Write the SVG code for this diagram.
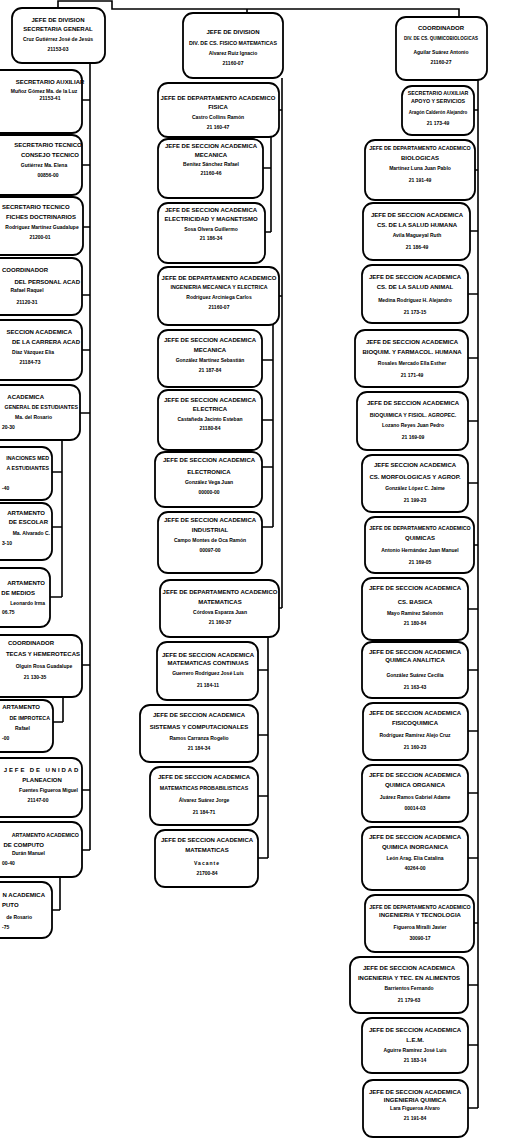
<svg xmlns="http://www.w3.org/2000/svg" width="521" height="1145" viewBox="0 0 521 1145">
<style>
rect{fill:#fff;stroke:#000;stroke-width:1.8}
.c{fill:none;stroke:#000;stroke-width:1.6}
text{font-family:"Liberation Sans",Arial,sans-serif;font-weight:bold;fill:#000;text-anchor:middle}
.h{font-size:6px}
.k{font-size:5.3px}
.n{font-size:5px}
.m{font-size:4.5px}
.e{text-anchor:end}
.st{text-anchor:start}
</style>
<rect x="-5" y="-5" width="531" height="1155" style="fill:#fff;stroke:none"/>
<g id="connectors" class="c">
<path d="M58,8 V1 H112 V9 H459 V17 M247,9 V13"/>
<path d="M90,63 V850 M82,100 H90 M82,165 H90 M83,227 H90 M82,295 H90 M82,350 H90 M80,413 H90 M82,665 H90 M82,790 H90 M82,850 H90"/>
<path d="M62,440 V597 M52,472 H62 M52,527 H62 M50,597 H62 M63,697 V722 M53,722 H63 M60,877 V910 M52,910 H60"/>
<path d="M282,78 V608 M279,110 H282 M279,296 H282 M279,608 H282"/>
<path d="M271,137 V232 M263,168 H271 M265,232 H271"/>
<path d="M273,325 V527 M262,360 H273 M262,420 H273 M262,467 H273 M262,527 H273"/>
<path d="M268,637 V858 M258,670 H268 M258,735 H268 M258,796 H268 M258,858 H268"/>
<path d="M478,80 V1108 M474,110 H478 M475,170 H478 M470,231 H478 M468,294 H478 M468,358 H478 M468,421 H478 M468,483 H478 M474,545 H478 M468,609 H478 M468,670 H478 M468,731 H478 M468,793 H478 M468,858 H478 M474,923 H478 M468,985 H478 M468,1045 H478 M468,1108 H478"/>
</g>
<g id="L1"><rect x="12" y="8" width="93" height="55" rx="10"/><text class="h" x="58" y="22">JEFE DE DIVISION</text><text class="h" x="58" y="31">SECRETARIA GENERAL</text><text class="n" x="58" y="41">Cruz Gutiérrez José de Jesús</text><text class="n" x="58" y="51">21153-03</text></g>
<g id="L2"><rect x="-20" y="70" width="102" height="63" rx="10"/><text class="h" x="50" y="84">SECRETARIO AUXILIAR</text><text class="n" x="44" y="93">Muñoz Gómez Ma. de la Luz</text><text class="n" x="50" y="100">21153-41</text></g>
<g id="L3"><rect x="-20" y="135" width="102" height="60" rx="10"/><text class="h" x="48" y="147">SECRETARIO TECNICO</text><text class="h" x="50" y="157">CONSEJO TECNICO</text><text class="n" x="44" y="167">Gutiérrez Ma. Elena</text><text class="n" x="48" y="177">00856-00</text></g>
<g id="L4"><rect x="-20" y="197" width="103" height="58" rx="10"/><text class="h st" x="2" y="209">SECRETARIO TECNICO</text><text class="h" x="41" y="219">FICHES DOCTRINARIOS</text><text class="n" x="42" y="229">Rodríguez Martínez Guadalupe</text><text class="n" x="40" y="239">21200-01</text></g>
<g id="L5"><rect x="-20" y="258" width="102" height="57" rx="10"/><text class="h st" x="2" y="272">COORDINADOR</text><text class="h e" x="80" y="284">DEL PERSONAL ACAD</text><text class="n" x="27" y="292">Rafael Raquel</text><text class="n" x="27" y="304">21120-31</text></g>
<g id="L6"><rect x="-20" y="320" width="102" height="60" rx="10"/><text class="h e" x="72" y="334">SECCION ACADEMICA</text><text class="h e" x="80" y="344">DE LA CARRERA ACAD</text><text class="n" x="33" y="354">Díaz Vázquez Elia</text><text class="n" x="30" y="364">21184-73</text></g>
<g id="L7"><rect x="-20" y="385" width="100" height="55" rx="10"/><text class="h e" x="44" y="399">ACADEMICA</text><text class="k e" x="78" y="409">GENERAL DE ESTUDIANTES</text><text class="n e" x="52" y="419">Ma. del Rosario</text><text class="n st" x="2" y="429">20-30</text></g>
<g id="L8"><rect x="-40" y="447" width="92" height="53" rx="10"/><text class="k e" x="49" y="460">INACIONES MED</text><text class="k e" x="49" y="470">A ESTUDIANTES</text><text class="n st" x="2" y="490">-40</text></g>
<g id="L9"><rect x="-40" y="503" width="92" height="57" rx="10"/><text class="h e" x="45" y="515">ARTAMENTO</text><text class="h e" x="48" y="524">DE ESCOLAR</text><text class="n e" x="50" y="535">Ma. Alvarado C.</text><text class="n st" x="2" y="545">3-10</text></g>
<g id="L10"><rect x="-40" y="568" width="90" height="59" rx="10"/><text class="h e" x="45" y="585">ARTAMENTO</text><text class="h e" x="35" y="595">DE MEDIOS</text><text class="n e" x="45" y="605">Leonardo Irma</text><text class="n st" x="2" y="614">06.75</text></g>
<g id="L11"><rect x="-20" y="635" width="102" height="62" rx="10"/><text class="h" x="31" y="645">COORDINADOR</text><text class="h e" x="80" y="656">TECAS Y HEMEROTECAS</text><text class="n" x="44" y="668">Olguín Rosa Guadalupe</text><text class="n" x="35" y="679">21 130-35</text></g>
<g id="L12"><rect x="-40" y="700" width="93" height="52" rx="10"/><text class="h e" x="40" y="709">ARTAMENTO</text><text class="k e" x="50" y="720">DE IMPROTECA</text><text class="n e" x="30" y="730">Rafael</text><text class="n st" x="2" y="740">-00</text></g>
<g id="L13"><rect x="-20" y="758" width="102" height="59" rx="10"/><text class="h" x="42" y="772" letter-spacing="1.9">JEFE DE UNIDAD</text><text class="h" x="42" y="782">PLANEACION</text><text class="n e" x="78" y="792">Fuentes Figueroa Miguel</text><text class="n" x="38" y="802">21147-00</text></g>
<g id="L14"><rect x="-20" y="822" width="102" height="55" rx="10"/><text class="k e" x="79" y="837">ARTAMENTO ACADEMICO</text><text class="h e" x="44" y="847">DE COMPUTO</text><text class="n e" x="45" y="855">Durán Manuel</text><text class="n st" x="2" y="865">00-40</text></g>
<g id="L15"><rect x="-40" y="882" width="92" height="56" rx="10"/><text class="h e" x="45" y="897">N ACADEMICA</text><text class="h st" x="2" y="907">PUTO</text><text class="n e" x="32" y="919">de Rosario</text><text class="n st" x="2" y="929">-75</text></g>

<g id="M1"><rect x="183" y="13" width="100" height="65" rx="10"/><text class="h" x="233" y="34">JEFE DE DIVISION</text><text class="k" x="233" y="45">DIV. DE CS. FISICO MATEMATICAS</text><text class="n" x="233" y="55">Alvarez Ruiz Ignacio</text><text class="n" x="233" y="65">21160-07</text></g>
<g id="M2"><rect x="158" y="83" width="121" height="54" rx="10"/><text class="h" x="218" y="100">JEFE DE DEPARTAMENTO ACADEMICO</text><text class="h" x="218" y="109">FISICA</text><text class="n" x="218" y="119">Castro Collins Ramón</text><text class="n" x="218" y="129">21 160-47</text></g>
<g id="M3"><rect x="158" y="139" width="105" height="59" rx="10"/><text class="h" x="211" y="148">JEFE DE SECCION ACADEMICA</text><text class="h" x="211" y="157">MECANICA</text><text class="n" x="211" y="166">Benítez Sánchez Rafael</text><text class="n" x="211" y="175">21160-46</text></g>
<g id="M4"><rect x="158" y="203" width="107" height="60" rx="10"/><text class="h" x="211" y="212">JEFE DE SECCION ACADEMICA</text><text class="h" x="211" y="221">ELECTRICIDAD Y MAGNETISMO</text><text class="n" x="211" y="231">Sosa Olvera Guillermo</text><text class="n" x="211" y="240">21 186-34</text></g>
<g id="M5"><rect x="158" y="267" width="121" height="58" rx="10"/><text class="h" x="219" y="280">JEFE DE DEPARTAMENTO ACADEMICO</text><text class="k" x="219" y="289">INGENIERIA MECANICA Y ELECTRICA</text><text class="n" x="219" y="299">Rodríguez Arciniega Carlos</text><text class="n" x="219" y="309">21160-07</text></g>
<g id="M6"><rect x="158" y="330" width="104" height="57" rx="10"/><text class="h" x="210" y="342">JEFE DE SECCION ACADEMICA</text><text class="h" x="210" y="352">MECANICA</text><text class="n" x="210" y="362">González Martínez Sebastián</text><text class="n" x="210" y="372">21 187-84</text></g>
<g id="M7"><rect x="158" y="390" width="104" height="60" rx="10"/><text class="h" x="210" y="402">JEFE DE SECCION ACADEMICA</text><text class="h" x="210" y="411">ELECTRICA</text><text class="n" x="210" y="421">Castañeda Jacinto Esteban</text><text class="n" x="210" y="430">21180-84</text></g>
<g id="M8"><rect x="155" y="452" width="107" height="55" rx="10"/><text class="h" x="209" y="462">JEFE DE SECCION ACADEMICA</text><text class="h" x="209" y="474">ELECTRONICA</text><text class="n" x="209" y="484">González Vega Juan</text><text class="n" x="209" y="494">00000-00</text></g>
<g id="M9"><rect x="158" y="512" width="104" height="61" rx="10"/><text class="h" x="210" y="522">JEFE DE SECCION ACADEMICA</text><text class="h" x="210" y="532">INDUSTRIAL</text><text class="n" x="210" y="542">Campo Montes de Oca Ramón</text><text class="n" x="210" y="552">00097-00</text></g>
<g id="M10"><rect x="160" y="580" width="119" height="57" rx="10"/><text class="h" x="220" y="594">JEFE DE DEPARTAMENTO ACADEMICO</text><text class="h" x="220" y="604">MATEMATICAS</text><text class="n" x="220" y="614">Córdova Esparza Juan</text><text class="n" x="220" y="624">21 160-37</text></g>
<g id="M11"><rect x="157" y="642" width="101" height="58" rx="10"/><text class="h" x="208" y="657">JEFE DE SECCION ACADEMICA</text><text class="h" x="208" y="665">MATEMATICAS CONTINUAS</text><text class="n" x="208" y="675">Guerrero Rodríguez José Luis</text><text class="n" x="208" y="687">21 184-11</text></g>
<g id="M12"><rect x="140" y="705" width="118" height="57" rx="10"/><text class="h" x="199" y="717">JEFE DE SECCION ACADEMICA</text><text class="h" x="199" y="729">SISTEMAS Y COMPUTACIONALES</text><text class="n" x="199" y="740">Ramos Carranza Rogelio</text><text class="n" x="199" y="750">21 184-34</text></g>
<g id="M13"><rect x="150" y="767" width="108" height="58" rx="10"/><text class="h" x="204" y="779">JEFE DE SECCION ACADEMICA</text><text class="k" x="204" y="790">MATEMATICAS PROBABILISTICAS</text><text class="n" x="204" y="802">Álvarez Suárez Jorge</text><text class="n" x="204" y="814">21 184-71</text></g>
<g id="M14"><rect x="155" y="830" width="103" height="57" rx="10"/><text class="h" x="207" y="842">JEFE DE SECCION ACADEMICA</text><text class="h" x="207" y="852">MATEMATICAS</text><text class="n" x="207" y="865" letter-spacing="1">Vacante</text><text class="n" x="207" y="875">21700-84</text></g>

<g id="R1"><rect x="396" y="17" width="91" height="63" rx="10"/><text class="h" x="441" y="30">COORDINADOR</text><text class="m" x="441" y="40">DIV. DE CS. QUIMICOBIOLOGICAS</text><text class="n" x="441" y="54">Aguilar Suárez Antonio</text><text class="n" x="441" y="64">21160-27</text></g>
<g id="R2"><rect x="402" y="86" width="72" height="49" rx="10"/><text class="k" x="438" y="95">SECRETARIO AUXILIAR</text><text class="k" x="438" y="103">APOYO Y SERVICIOS</text><text class="m" x="438" y="114">Aragón Calderón Alejandro</text><text class="n" x="438" y="125">21 173-49</text></g>
<g id="R3"><rect x="365" y="140" width="110" height="60" rx="10"/><text class="k" x="420" y="150">JEFE DE DEPARTAMENTO ACADEMICO</text><text class="h" x="420" y="160">BIOLOGICAS</text><text class="n" x="420" y="170">Martínez Luna Juan Pablo</text><text class="n" x="420" y="182">21 191-49</text></g>
<g id="R4"><rect x="363" y="203" width="107" height="57" rx="10"/><text class="h" x="417" y="217">JEFE DE SECCION ACADEMICA</text><text class="h" x="417" y="227">CS. DE LA SALUD HUMANA</text><text class="n" x="417" y="237">Avila Magueyal Ruth</text><text class="n" x="417" y="249">21 186-49</text></g>
<g id="R5"><rect x="362" y="265" width="106" height="58" rx="10"/><text class="h" x="415" y="279">JEFE DE SECCION ACADEMICA</text><text class="h" x="415" y="289">CS. DE LA SALUD ANIMAL</text><text class="n" x="415" y="302">Medina Rodríguez H. Alejandro</text><text class="n" x="415" y="314">21 173-15</text></g>
<g id="R6"><rect x="355" y="330" width="113" height="57" rx="10"/><text class="h" x="412" y="344">JEFE DE SECCION ACADEMICA</text><text class="h" x="412" y="354">BIOQUIM. Y FARMACOL. HUMANA</text><text class="n" x="412" y="365">Rosales Mercado Ella Esther</text><text class="n" x="412" y="377">21 171-49</text></g>
<g id="R7"><rect x="357" y="392" width="111" height="58" rx="10"/><text class="h" x="413" y="405">JEFE DE SECCION ACADEMICA</text><text class="k" x="413" y="417">BIOQUIMICA Y FISIOL. AGROPEC.</text><text class="n" x="413" y="427">Lozano Reyes Juan Pedro</text><text class="n" x="413" y="439">21 169-09</text></g>
<g id="R8"><rect x="362" y="455" width="106" height="57" rx="10"/><text class="h" x="415" y="467">JEFE SECCION ACADEMICA</text><text class="h" x="415" y="479">CS. MORFOLOGICAS Y AGROP.</text><text class="n" x="415" y="490">González López C. Jaime</text><text class="n" x="415" y="502">21 199-23</text></g>
<g id="R9"><rect x="365" y="517" width="109" height="56" rx="10"/><text class="k" x="420" y="530">JEFE DE DEPARTAMENTO ACADEMICO</text><text class="h" x="420" y="540">QUIMICAS</text><text class="n" x="420" y="552">Antonio Hernández Juan Manuel</text><text class="n" x="420" y="564">21 169-05</text></g>
<g id="R10"><rect x="362" y="578" width="106" height="62" rx="10"/><text class="h" x="415" y="590">JEFE DE SECCION ACADEMICA</text><text class="h" x="415" y="604">CS. BASICA</text><text class="n" x="415" y="615">Mayo Ramírez Salomón</text><text class="n" x="415" y="625">21 180-84</text></g>
<g id="R11"><rect x="362" y="642" width="106" height="56" rx="10"/><text class="h" x="415" y="654">JEFE DE SECCION ACADEMICA</text><text class="h" x="415" y="662">QUIMICA ANALITICA</text><text class="n" x="415" y="677">González Suárez Cecilia</text><text class="n" x="415" y="689">21 163-43</text></g>
<g id="R12"><rect x="363" y="703" width="105" height="57" rx="10"/><text class="h" x="415" y="715">JEFE DE SECCION ACADEMICA</text><text class="h" x="415" y="725">FISICOQUIMICA</text><text class="n" x="415" y="737">Rodríguez Ramírez Alejo Cruz</text><text class="n" x="415" y="749">21 160-23</text></g>
<g id="R13"><rect x="362" y="765" width="106" height="57" rx="10"/><text class="h" x="415" y="777">JEFE DE SECCION ACADEMICA</text><text class="h" x="415" y="787">QUIMICA ORGANICA</text><text class="n" x="415" y="799">Juárez Ramos Gabriel Adame</text><text class="n" x="415" y="810">00014-03</text></g>
<g id="R14"><rect x="362" y="827" width="106" height="63" rx="10"/><text class="h" x="415" y="839">JEFE DE SECCION ACADEMICA</text><text class="h" x="415" y="849">QUIMICA INORGANICA</text><text class="n" x="415" y="860">León Arag. Elia Catalina</text><text class="n" x="415" y="870">40264-00</text></g>
<g id="R15"><rect x="365" y="895" width="109" height="57" rx="10"/><text class="k" x="420" y="909">JEFE DE DEPARTAMENTO ACADEMICO</text><text class="h" x="420" y="917">INGENIERIA Y TECNOLOGIA</text><text class="n" x="420" y="929">Figueroa Miralli Javier</text><text class="n" x="420" y="940">30090-17</text></g>
<g id="R16"><rect x="350" y="957" width="118" height="56" rx="10"/><text class="h" x="409" y="970">JEFE DE SECCION ACADEMICA</text><text class="h" x="409" y="980">INGENIERIA Y TEC. EN ALIMENTOS</text><text class="n" x="409" y="990">Barrientos Fernando</text><text class="n" x="409" y="1002">21 179-63</text></g>
<g id="R17"><rect x="362" y="1018" width="106" height="55" rx="10"/><text class="h" x="415" y="1032">JEFE DE SECCION ACADEMICA</text><text class="h" x="415" y="1042">L.E.M.</text><text class="n" x="415" y="1052">Aguirre Ramírez José Luis</text><text class="n" x="415" y="1062">21 183-14</text></g>
<g id="R18"><rect x="363" y="1080" width="105" height="57" rx="10"/><text class="h" x="415" y="1094">JEFE DE SECCION ACADEMICA</text><text class="h" x="415" y="1102">INGENIERIA QUIMICA</text><text class="n" x="415" y="1110">Lara Figueroa Alvaro</text><text class="n" x="415" y="1120">21 191-84</text></g>
</svg>
